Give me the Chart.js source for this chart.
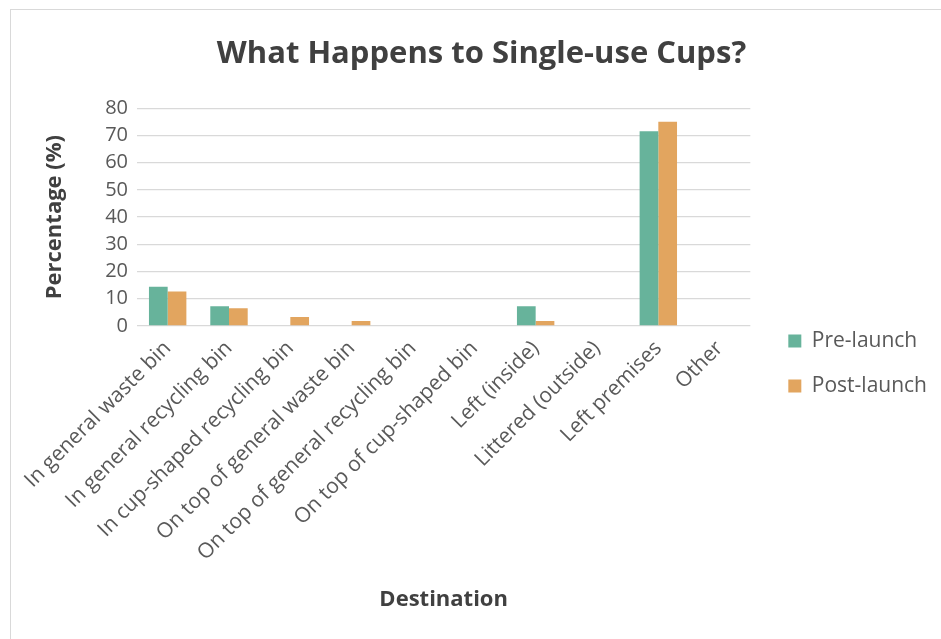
<!DOCTYPE html>
<html><head><meta charset="utf-8">
<script src="https://cdn.jsdelivr.net/npm/chart.js"></script>
<style>
html,body{margin:0;padding:0;background:#fff;overflow:hidden;}
#wrap{position:absolute;left:0;top:0;width:941px;height:639px;}
#frame{position:absolute;left:10px;top:9px;width:940px;height:640px;border:1px solid #d9d9d9;box-sizing:border-box;}
</style></head><body>
<div id="frame"></div>
<div id="wrap"><canvas id="c" width="941" height="639"></canvas></div>
<script>
const categories = ["In general waste bin","In general recycling bin","In cup-shaped recycling bin","On top of general waste bin","On top of general recycling bin","On top of cup-shaped bin","Left (inside)","Littered (outside)","Left premises","Other"];
const preLaunch = [14.4, 7.3, 0, 0, 0, 0, 7.3, 0, 71.5, 0];
const postLaunch = [12.7, 6.5, 3.3, 1.8, 0, 0, 1.8, 0, 75.0, 0];
const yTicks = [0,10,20,30,40,50,60,70,80];
const FONT = "'Open Sans', sans-serif";
Chart.defaults.font.family = FONT;
Chart.defaults.color = '#595959';

const legendPlace = {
  id: 'legendPlace',
  afterLayout(chart) {
    const lg = chart.legend;
    if (!lg) return;
    const w = lg.right - lg.left;
    lg.left = chart.chartArea.right + 14;
    lg.right = lg.left + w;
    lg.top = chart.chartArea.top;
    lg.bottom = chart.height - 20;
  }
};

new Chart(document.getElementById('c'), {
  type: 'bar',
  data: {
    labels: categories,
    datasets: [
      {label: 'Pre-launch', data: preLaunch, backgroundColor: '#67b39b', barPercentage: 1.0, categoryPercentage: 0.61},
      {label: 'Post-launch', data: postLaunch, backgroundColor: '#e2a55f', barPercentage: 1.0, categoryPercentage: 0.61}
    ]
  },
  plugins: [legendPlace],
  options: {
    responsive: false,
    animation: false,
    layout: {padding: {left: 40, right: 18, top: 20, bottom: 15}},
    plugins: {
      title: {display: true, text: 'What Happens to Single-use Cups?', color: '#404040', font: {size: 31, weight: 'bold', family: FONT, lineHeight: 1.2}, padding: {top: 16, bottom: 35}},
      legend: {position: 'right', labels: {boxWidth: 13, boxHeight: 13, padding: 24, color: '#595959', font: {size: 21, family: FONT}}},
      tooltip: {enabled: false}
    },
    scales: {
      x: {
        afterFit: (ax) => { ax.height = 298; },
        grid: {display: false},
        border: {display: false},
        ticks: {color: '#595959', font: {size: 21, family: FONT}, minRotation: 45, maxRotation: 45, autoSkip: false, padding: 2},
        title: {display: true, text: 'Destination', color: '#404040', font: {size: 22, weight: 'bold', family: FONT, lineHeight: 1.2}, padding: {top: 0, bottom: 11}}
      },
      y: {
        min: 0, max: 80,
        afterFit: (ax) => { ax.width = 97; },
        afterBuildTicks: (ax) => { ax.ticks = yTicks.map(v => ({value: v})); },
        grid: {color: '#d9d9d9', lineWidth: 1.3, drawTicks: false},
        border: {display: false},
        ticks: {color: '#595959', font: {size: 20, family: FONT}, padding: 9},
        title: {display: true, text: 'Percentage (%)', color: '#404040', font: {size: 22, weight: 'bold', family: FONT, lineHeight: 1.2}, padding: {top: 2, bottom: 0}}
      }
    }
  }
});
</script>
</body></html>
